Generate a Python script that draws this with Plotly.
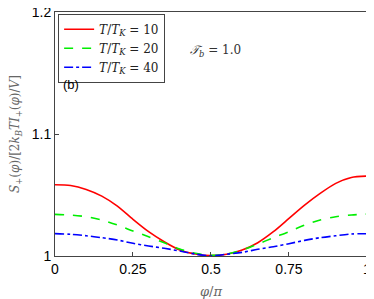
import plotly.graph_objects as go

phi = [0.0, 0.05, 0.1, 0.15, 0.2, 0.25, 0.3, 0.35, 0.4, 0.45, 0.5,
       0.55, 0.6, 0.65, 0.7, 0.75, 0.8, 0.85, 0.9, 0.95, 1.0]

s_10 = [1.0584, 1.0578, 1.0546, 1.0491, 1.0409, 1.0300, 1.0199, 1.0117, 1.0049, 1.0016, 1.0003,
        1.0014, 1.0049, 1.0109, 1.0199, 1.0308, 1.0417, 1.0513, 1.0595, 1.0644, 1.0655]
s_20 = [1.0341, 1.0336, 1.0322, 1.0295, 1.0254, 1.0205, 1.0158, 1.0109, 1.0057, 1.0022, 1.0005,
        1.0016, 1.0049, 1.0098, 1.0150, 1.0199, 1.0254, 1.0295, 1.0322, 1.0336, 1.0344]
s_40 = [1.0183, 1.0178, 1.0166, 1.0150, 1.0131, 1.0104, 1.0082, 1.0063, 1.0041, 1.0016, 1.0001,
        1.0014, 1.0030, 1.0055, 1.0076, 1.0101, 1.0128, 1.0150, 1.0166, 1.0180, 1.0183]

names = ["<i>T</i>/<i>T<sub>K</sub></i> = 10", "<i>T</i>/<i>T<sub>K</sub></i> = 20",
         "<i>T</i>/<i>T<sub>K</sub></i> = 40"]
x_ticks = [0, 0.25, 0.5, 0.75, 1]
x_tick_text = ["0", "0.25", "0.5", "0.75", "1"]
y_ticks = [1.0, 1.1, 1.2]
y_tick_text = ["1", "1.1", "1.2"]

fig = go.Figure()
styles = [("#ff0000", "solid"), ("#00ee00", "dash"), ("#0000ff", "dashdot")]
for ys, nm, (c, d) in zip([s_10, s_20, s_40], names, styles):
    fig.add_trace(go.Scatter(x=phi, y=ys, name=nm, mode="lines",
                             line=dict(color=c, dash=d, width=1.6, shape="spline", smoothing=0.8)))

axis_common = dict(showline=True, mirror=True, linecolor="#444444", linewidth=1,
                   ticks="inside", ticklen=4, tickcolor="#444444", showgrid=False,
                   zeroline=False, automargin=False, ticklabeloverflow="allow",
                   tickfont=dict(family="Liberation Sans, Arial", size=14, color="black"))

fig.update_xaxes(range=[0, 1.0001], tickvals=x_ticks, ticktext=x_tick_text,
                 title=dict(text="<i>φ</i>/<i>π</i>", font=dict(family="DejaVu Serif", size=13, color="#666666")),
                 **axis_common)
fig.update_yaxes(range=[1.0, 1.2], tickvals=y_ticks, ticktext=y_tick_text,
                 title=dict(text="<i>S</i><sub>+</sub>(<i>φ</i>)/[2<i>k<sub>B</sub>TI</i><sub>+</sub>(<i>φ</i>)/<i>V</i>]",
                            font=dict(family="DejaVu Serif", size=12, color="#666666")),
                 **axis_common)

fig.add_annotation(x=0.02, y=0.703, xref="paper", yref="paper", text="(b)", showarrow=False,
                   xanchor="left", yanchor="middle", font=dict(family="Liberation Sans, Arial", size=13, color="black"))
fig.add_annotation(x=0.425, y=0.84, xref="paper", yref="paper",
                   text="<i>𝒯<sub>b</sub></i> = 1.0", showarrow=False,
                   xanchor="left", yanchor="middle", font=dict(family="DejaVu Serif", size=12, color="#333333"))

fig.update_layout(
    width=366, height=291,
    margin=dict(l=47, r=7, t=4, b=43),
    paper_bgcolor="white", plot_bgcolor="white",
    legend=dict(x=0.01, y=0.993, xanchor="left", yanchor="top", bgcolor="white",
                bordercolor="#444444", borderwidth=1, tracegroupgap=0,
                font=dict(family="DejaVu Serif", size=12, color="#222222"), itemwidth=30),
)

fig.write_html("out.html")
